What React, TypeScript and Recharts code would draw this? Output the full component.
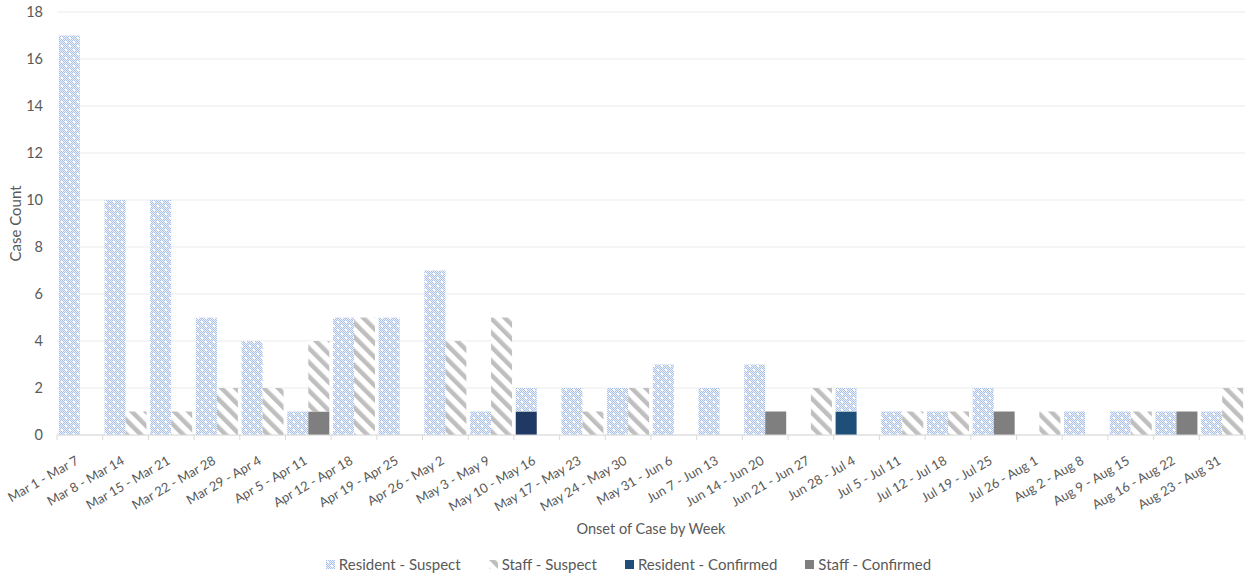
import { BarChart, Bar, XAxis, YAxis, CartesianGrid, Cell } from "recharts"

const weeks = [
  "Mar 1 - Mar 7", "Mar 8 - Mar 14", "Mar 15 - Mar 21", "Mar 22 - Mar 28", "Mar 29 - Apr 4",
  "Apr 5 - Apr 11", "Apr 12 - Apr 18", "Apr 19 - Apr 25", "Apr 26 - May 2", "May 3 - May 9",
  "May 10 - May 16", "May 17 - May 23", "May 24 - May 30", "May 31 - Jun 6", "Jun 7 - Jun 13",
  "Jun 14 - Jun 20", "Jun 21 - Jun 27", "Jun 28 - Jul 4", "Jul 5 - Jul 11", "Jul 12 - Jul 18",
  "Jul 19 - Jul 25", "Jul 26 - Aug 1", "Aug 2 - Aug 8", "Aug 9 - Aug 15", "Aug 16 - Aug 22",
  "Aug 23 - Aug 31",
]
const residentSuspect = [17, 10, 10, 5, 4, 1, 5, 5, 7, 1, 1, 2, 2, 3, 2, 3, 0, 1, 1, 1, 2, 0, 1, 1, 1, 1]
const staffSuspect = [0, 1, 1, 2, 2, 3, 5, 0, 4, 5, 0, 1, 2, 0, 0, 0, 2, 0, 1, 1, 0, 1, 0, 1, 0, 2]
const residentConfirmed = [0, 0, 0, 0, 0, 0, 0, 0, 0, 0, 1, 0, 0, 0, 0, 0, 0, 1, 0, 0, 0, 0, 0, 0, 0, 0]
const staffConfirmed = [0, 0, 0, 0, 0, 1, 0, 0, 0, 0, 0, 0, 0, 0, 0, 1, 0, 0, 0, 0, 1, 0, 0, 0, 1, 0]
const yTicks = [0, 2, 4, 6, 8, 10, 12, 14, 16, 18]

const data = weeks.map((week, i) => ({
  week,
  residentSuspect: residentSuspect[i],
  staffSuspect: staffSuspect[i],
  residentConfirmed: residentConfirmed[i],
  staffConfirmed: staffConfirmed[i],
}))

const W = 1257
const H = 576
const LEFT = 57
const RIGHT = 12
const BAND = (W - LEFT - RIGHT) / weeks.length
const FONT = "Lato, 'Open Sans', sans-serif"
const TEXT = "#595959"

const legendItems = [
  { name: "Resident - Suspect", fill: "url(#resSusp)" },
  { name: "Staff - Suspect", fill: "url(#staffSusp)" },
  { name: "Resident - Confirmed", fill: "#1f4e79" },
  { name: "Staff - Confirmed", fill: "#7f7f7f" },
]

function Patterns() {
  const checks: JSX.Element[] = []
  for (let y = 0; y < 8; y++) {
    for (let x = 0; x < 8; x++) {
      if ((x + y) % 2 === 0) checks.push(<rect key={`${x}-${y}`} x={x} y={y} width={1} height={1} fill="#a8bfe9" />)
    }
  }
  return (
    <svg width={0} height={0} style={{ position: "absolute" }}>
      <defs>
        <pattern id="resSusp" width={8} height={8} patternUnits="userSpaceOnUse">
          <rect width={8} height={8} fill="#edf2fb" />
          {checks}
          <rect x={1} y={1} width={2} height={2} fill="#ffffff" />
          <rect x={5} y={5} width={2} height={2} fill="#ffffff" />
        </pattern>
        <pattern id="staffSusp" width={10} height={10} patternUnits="userSpaceOnUse" patternTransform="rotate(-45)">
          <rect width={10} height={10} fill="#ffffff" />
          <rect x={0} y={0} width={4.5} height={10} fill="#bfbfbf" />
        </pattern>
      </defs>
    </svg>
  )
}

const WeekTick = (props: any) => {
  const { x, y, payload, index } = props
  const axisY = 435
  return (
    <g>
      <line x1={x - BAND / 2} x2={x - BAND / 2} y1={axisY} y2={axisY + 5} stroke="#d9d9d9" />
      {index === weeks.length - 1 && (
        <line x1={x + BAND / 2} x2={x + BAND / 2} y1={axisY} y2={axisY + 5} stroke="#d9d9d9" />
      )}
      <g transform={`translate(${x - 5},${y + 12})`}>
        <text transform="rotate(-30)" textAnchor="end" dy="0.72em" fill={TEXT} fontSize={13} fontFamily={FONT}>
          {payload.value}
        </text>
      </g>
    </g>
  )
}

export default function App() {
  return (
    <div style={{ position: "absolute", left: 0, top: 0, width: W, height: H, background: "#fff" }}>
      <Patterns />
      <BarChart
        width={W}
        height={H}
        data={data}
        margin={{ top: 12, right: RIGHT, left: 0, bottom: 0 }}
        barCategoryGap="4%"
        barGap={0}
      >
        <CartesianGrid vertical={false} stroke="#ebebeb" />
        <XAxis
          dataKey="week"
          interval={0}
          height={141}
          axisLine={{ stroke: "#d9d9d9" }}
          tickLine={false}
          tick={<WeekTick />}
          label={{
            value: "Onset of Case by Week",
            position: "insideBottom",
            offset: 42,
            fill: TEXT,
            fontSize: 14.5,
            fontFamily: FONT,
          }}
        />
        <YAxis
          width={LEFT}
          domain={[0, 18]}
          ticks={yTicks}
          axisLine={false}
          tickLine={false}
          tick={{ fill: TEXT, fontSize: 14.5, fontFamily: FONT }}
          tickMargin={8}
          label={{
            value: "Case Count",
            angle: -90,
            position: "insideLeft",
            offset: 16,
            fill: TEXT,
            fontSize: 15,
            fontFamily: FONT,
            style: { textAnchor: "middle" },
          }}
        />
        <Bar dataKey="residentConfirmed" stackId="r" fill="#1f4e79" isAnimationActive={false}>
          {data.map((d, i) => (
            <Cell key={i} fill={d.week === "May 10 - May 16" ? "#203864" : "#1f4e79"} />
          ))}
        </Bar>
        <Bar dataKey="residentSuspect" stackId="r" fill="url(#resSusp)" isAnimationActive={false} />
        <Bar dataKey="staffConfirmed" stackId="s" fill="#7f7f7f" isAnimationActive={false} />
        <Bar dataKey="staffSuspect" stackId="s" fill="url(#staffSusp)" isAnimationActive={false} />
      </BarChart>
      <div
        style={{
          position: "absolute",
          left: 0,
          top: 555,
          width: W,
          display: "flex",
          justifyContent: "center",
          gap: 28,
          fontFamily: FONT,
          fontSize: 15,
          color: TEXT,
        }}
      >
        {legendItems.map((item) => (
          <div key={item.name} style={{ display: "flex", alignItems: "center", gap: 4 }}>
            <svg width={9} height={9}>
              <rect width={9} height={9} fill={item.fill} />
            </svg>
            <span>{item.name}</span>
          </div>
        ))}
      </div>
    </div>
  )
}
